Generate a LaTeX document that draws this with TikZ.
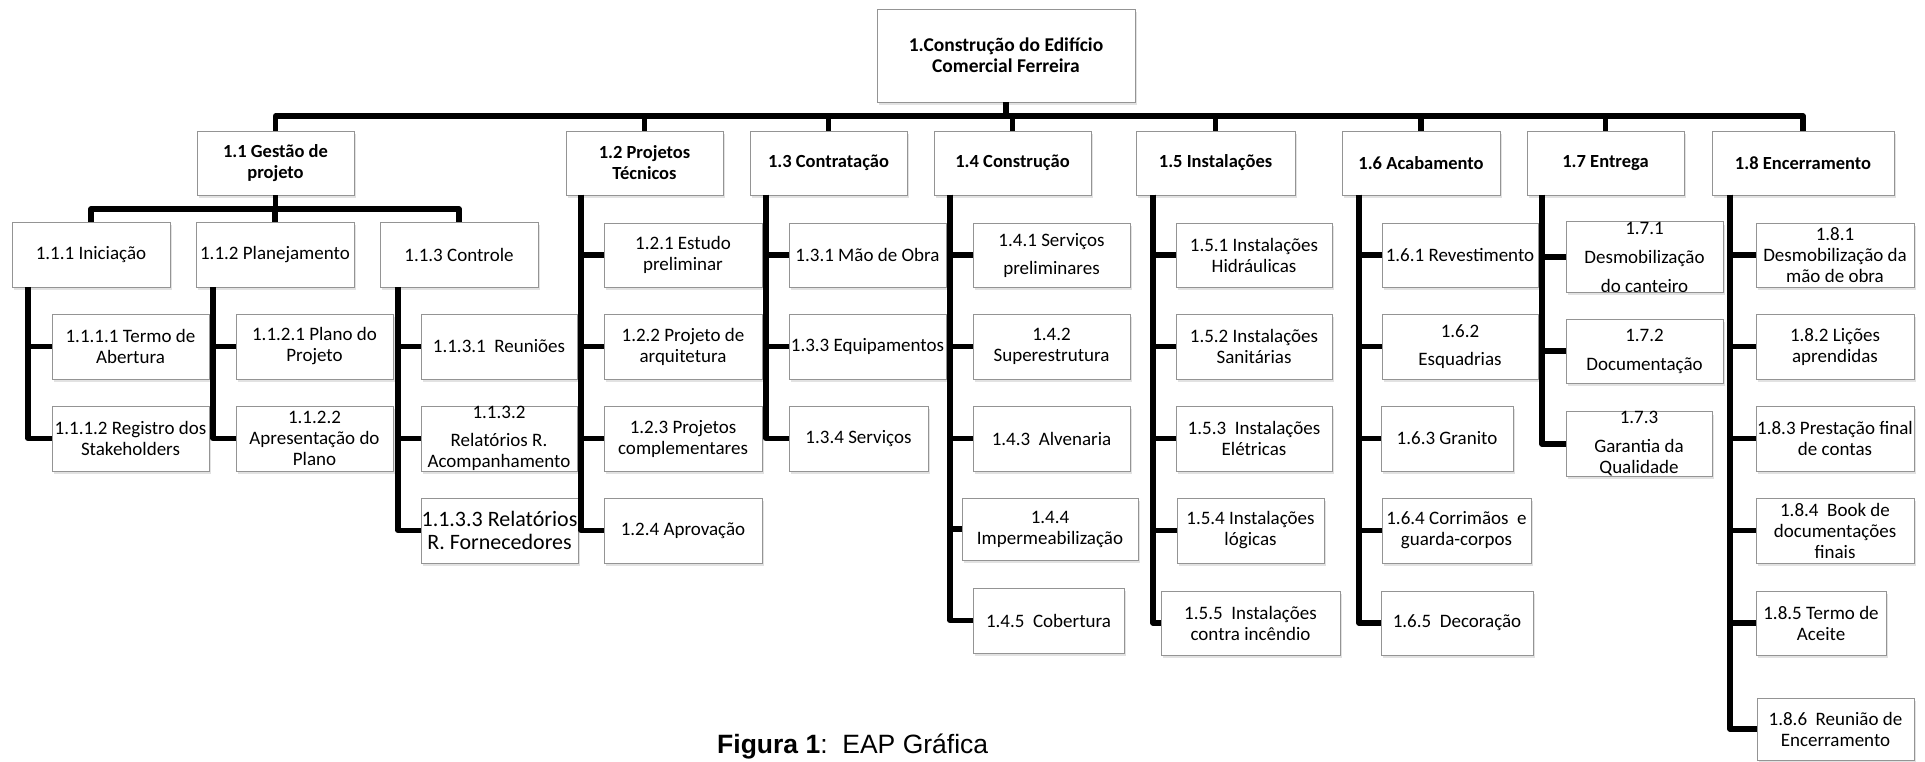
\documentclass[tikz,border=0pt]{standalone}
\usepackage{fontspec}
\setmainfont{Carlito}
\newfontfamily\capfont{Liberation Sans}
\usetikzlibrary{shadows}
\tikzset{
  box/.style={draw=black!42, line width=0.9pt, fill=white,
    drop shadow={shadow xshift=2pt, shadow yshift=-3pt, fill=black!22},
    inner sep=0pt, align=center, font=\fontsize{19}{21}\selectfont},
  bbox/.style={box, font=\fontsize{18.5}{21}\selectfont\bfseries},
  rootbox/.style={box, font=\fontsize{19.5}{21}\selectfont\bfseries},
  bigbox/.style={box, font=\fontsize{22}{23}\selectfont},
  conn/.style={line width=5.2pt, line join=round, black},
}
\newcommand{\bx}[6][box]{\node[#1, minimum width={(#4)-(#2)}, minimum height={(#5)-(#3)}] (#6) at ({((#2)+(#4))/2},{((#3)+(#5))/2})}
\begin{document}
\begin{tikzpicture}[x=1pt,y=-1pt]
\useasboundingbox[fill=white] (0,0) rectangle (1925,762);
% root
\bx[rootbox]{877}{9}{1135}{102}{root}{1.Construção do Edifício\\Comercial Ferreira};
% level 1
\bx[bbox]{197}{131}{354}{195}{g11}{1.1 Gestão de\\projeto};
\bx[bbox]{566}{131}{723}{195}{g12}{1.2 Projetos\\Técnicos};
\bx[bbox]{750}{131}{907}{195}{g13}{1.3 Contratação};
\bx[bbox]{934}{131}{1091}{195}{g14}{1.4 Construção};
\bx[bbox]{1136}{131}{1295}{195}{g15}{1.5 Instalações};
\bx[bbox]{1342}{131}{1500}{195}{g16}{1.6 Acabamento};
\bx[bbox]{1527}{131}{1684}{195}{g17}{1.7 Entrega};
\bx[bbox]{1712}{131}{1894}{195}{g18}{1.8 Encerramento};
% 1.1 children
\bx{12}{222}{170}{287}{c111}{1.1.1 Iniciação};
\bx{196}{222}{354}{287}{c112}{1.1.2 Planejamento};
\bx{380}{222}{538}{287}{c113}{1.1.3 Controle};
\bx{52}{314}{209}{379}{c1111}{1.1.1.1 Termo de\\Abertura};
\bx{52}{406}{209}{471}{c1112}{1.1.1.2 Registro dos\\Stakeholders};
\bx{236}{314}{393}{379}{c1121}{1.1.2.1 Plano do\\Projeto};
\bx{236}{406}{393}{471}{c1122}{1.1.2.2\\Apresentação do\\Plano};
\bx{421}{314}{577}{379}{c1131}{1.1.3.1\ \ Reuniões};
\bx{421}{406}{577}{471}{c1132}{1.1.3.2\\[7pt]Relatórios R.\\Acompanhamento};
\bx[bigbox]{421}{498}{578}{563}{c1133}{1.1.3.3 Relatórios\\R. Fornecedores};
% 1.2 children
\bx{604}{223}{762}{287}{c121}{1.2.1 Estudo\\preliminar};
\bx{604}{314}{762}{379}{c122}{1.2.2 Projeto de\\arquitetura};
\bx{604}{406}{762}{471}{c123}{1.2.3 Projetos\\complementares};
\bx{604}{498}{762}{563}{c124}{1.2.4 Aprovação};
% 1.3 children
\bx{789}{223}{946}{287}{c131}{1.3.1 Mão de Obra};
\bx{789}{314}{946}{379}{c133}{1.3.3 Equipamentos};
\bx{789}{406}{928}{471}{c134}{1.3.4 Serviços};
% 1.4 children
\bx{973}{223}{1130}{287}{c141}{1.4.1 Serviços\\[7pt]preliminares};
\bx{973}{314}{1130}{379}{c142}{1.4.2\\Superestrutura};
\bx{973}{406}{1130}{471}{c143}{1.4.3\ \ Alvenaria};
\bx{962}{498}{1138}{560}{c144}{1.4.4\\Impermeabilização};
\bx{973}{588}{1124}{653}{c145}{1.4.5\ \ Cobertura};
% 1.5 children
\bx{1176}{223}{1332}{287}{c151}{1.5.1 Instalações\\Hidráulicas};
\bx{1176}{314}{1332}{379}{c152}{1.5.2 Instalações\\Sanitárias};
\bx{1176}{406}{1332}{471}{c153}{1.5.3\ \ Instalações\\Elétricas};
\bx{1177}{498}{1324}{563}{c154}{1.5.4 Instalações\\lógicas};
\bx{1161}{591}{1340}{655}{c155}{1.5.5\ \ Instalações\\contra incêndio};
% 1.6 children
\bx{1382}{223}{1538}{287}{c161}{1.6.1 Revestimento};
\bx{1382}{314}{1538}{379}{c162}{1.6.2\\[7pt]Esquadrias};
\bx{1381}{406}{1513}{471}{c163}{1.6.3 Granito};
\bx{1382}{498}{1531}{563}{c164}{1.6.4 Corrimãos\ \ e\\guarda-corpos};
\bx{1381}{591}{1533}{655}{c165}{1.6.5\ \ Decoração};
% 1.7 children
\bx{1566}{223}{1723}{291}{c171}{1.7.1\\[8pt]Desmobilização\\[8pt]do canteiro};
\bx{1566}{319}{1723}{383}{c172}{1.7.2\\[8pt]Documentação};
\bx{1566}{412}{1712}{476}{c173}{1.7.3\\[8pt]Garantia da\\Qualidade};
% 1.8 children
\bx{1756}{223}{1914}{287}{c181}{1.8.1\\Desmobilização da\\mão de obra};
\bx{1756}{314}{1914}{379}{c182}{1.8.2 Lições\\aprendidas};
\bx{1756}{406}{1914}{471}{c183}{1.8.3 Prestação final\\de contas};
\bx{1756}{498}{1914}{563}{c184}{1.8.4\ \ Book de\\documentações\\finais};
\bx{1756}{591}{1886}{655}{c185}{1.8.5 Termo de\\Aceite};
\bx{1757}{698}{1914}{760}{c186}{1.8.6\ \ Reunião de\\Encerramento};
% caption
\node[font=\capfont\fontsize{26.5}{30}\selectfont, anchor=base west, inner sep=0pt] (cap) at (717,753) {\textbf{Figura 1}:\ \ EAP Gráfica};
% connector helper coordinates
\coordinate (bar) at (0,116);
\coordinate (bar11) at (0,209);
\coordinate (v111) at (28,287);
\coordinate (v112) at (213,287);
\coordinate (v113) at (398,287);
\coordinate (v12) at (581,195);
\coordinate (v13) at (766,195);
\coordinate (v14) at (950,195);
\coordinate (v15) at (1153,195);
\coordinate (v16) at (1359,195);
\coordinate (v17) at (1542,195);
\coordinate (v18) at (1730,195);
% root to level 1
\foreach \n in {g11,g12,g13,g14,g15,g16,g17,g18}
  \draw[conn] (root.south) |- (\n.north |- bar) -- (\n.north);
% 1.1 to its children
\foreach \n in {c111,c112,c113}
  \draw[conn] (g11.south) |- (\n.north |- bar11) -- (\n.north);
% vertical trees
\foreach \n in {c1111,c1112} \draw[conn] (v111) |- (\n.west);
\foreach \n in {c1121,c1122} \draw[conn] (v112) |- (\n.west);
\foreach \n in {c1131,c1132,c1133} \draw[conn] (v113) |- (\n.west);
\foreach \n in {c121,c122,c123,c124} \draw[conn] (v12) |- (\n.west);
\foreach \n in {c131,c133,c134} \draw[conn] (v13) |- (\n.west);
\foreach \n in {c141,c142,c143,c144,c145} \draw[conn] (v14) |- (\n.west);
\foreach \n in {c151,c152,c153,c154,c155} \draw[conn] (v15) |- (\n.west);
\foreach \n in {c161,c162,c163,c164,c165} \draw[conn] (v16) |- (\n.west);
\foreach \n in {c171,c172,c173} \draw[conn] (v17) |- (\n.west);
\foreach \n in {c181,c182,c183,c184,c185,c186} \draw[conn] (v18) |- (\n.west);
\end{tikzpicture}
\end{document}
